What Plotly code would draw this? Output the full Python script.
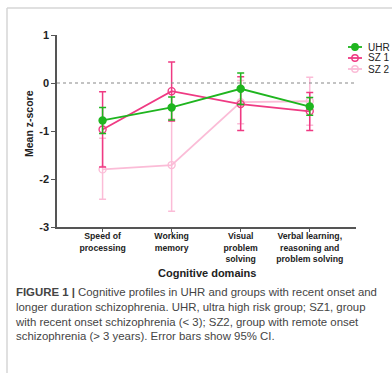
import numpy as np
import plotly.graph_objects as go

# Cognitive domains on the x axis
domains = ["Speed of<br>processing", "Working<br>memory", "Visual<br>problem<br>solving",
           "Verbal learning,<br>reasoning and<br>problem solving"]
groups = ["UHR", "SZ 1", "SZ 2"]

# Mean z-scores and 95% CI bounds per group
uhr_mean = [-0.78, -0.51, -0.12, -0.49]
uhr_lo = [-1.05, -0.77, -0.45, -0.67]
uhr_hi = [-0.51, -0.29, 0.21, -0.30]

sz1_mean = [-0.97, -0.17, -0.44, -0.59]
sz1_lo = [-1.75, -0.79, -0.99, -0.99]
sz1_hi = [-0.18, 0.44, 0.13, -0.20]

sz2_mean = [-1.80, -1.71, -0.40, -0.38]
sz2_lo = [-2.42, -2.67, -0.85, -0.88]
sz2_hi = [-1.15, -0.75, 0.05, 0.12]

y_ticks = [1, 0, -1, -2, -3]

GREEN = "#1fb51f"
PINK = "#ef3a83"
PALE = "#fbbcd7"
FONT = "Liberation Sans, Arial, sans-serif"

W, H = 392, 373
L, R, T, B = 57, 36, 35, 146
PW, PH = W - L - R, H - T - B


def px(x):
    return (x - L) / PW


def py(y):
    return 1 - (y - T) / PH


fig = go.Figure()

series = [
    ("SZ 2", sz2_mean, sz2_lo, sz2_hi, PALE, "circle-open"),
    ("SZ 1", sz1_mean, sz1_lo, sz1_hi, PINK, "circle-open"),
    ("UHR", uhr_mean, uhr_lo, uhr_hi, GREEN, "circle"),
]
xs = list(range(len(domains)))
for name, m, lo, hi, col, sym in series:
    m = np.array(m)
    fig.add_trace(go.Scatter(
        x=xs, y=m, name=name, mode="lines+markers",
        line=dict(color=col, width=1.8),
        marker=dict(symbol=sym, size=7, color=col, line=dict(color=col, width=1.4)),
        error_y=dict(type="data", symmetric=False,
                     array=np.array(hi) - m, arrayminus=m - np.array(lo),
                     color=col, thickness=1.5, width=3.5),
        showlegend=False,
    ))

# reference line at zero
fig.add_shape(type="line", xref="paper", yref="y", x0=0, x1=px(355), y0=0, y1=0,
              line=dict(color="#888888", width=1.2, dash="dot"))

# outer frame of the figure panel
fig.add_shape(type="line", xref="paper", yref="paper", x0=px(7), x1=px(400), y0=py(8), y1=py(8),
              line=dict(color="#d6d6d6", width=1.5))
fig.add_shape(type="line", xref="paper", yref="paper", x0=px(7), x1=px(7), y0=py(8), y1=py(380),
              line=dict(color="#d6d6d6", width=1.5))

# legend
leg_rows = [47, 58, 69]
leg_items = [("UHR", GREEN, "circle"), ("SZ 1", PINK, "open"), ("SZ 2", PALE, "open")]
for (name, col, kind), yy in zip(leg_items, leg_rows):
    fig.add_shape(type="line", xref="paper", yref="paper", x0=px(348), x1=px(362),
                  y0=py(yy), y1=py(yy), line=dict(color=col, width=1.8))
    fig.add_shape(type="circle", xref="paper", yref="paper", xsizemode="pixel", ysizemode="pixel",
                  xanchor=px(355), yanchor=py(yy), x0=-3.2, x1=3.2, y0=-3.2, y1=3.2,
                  line=dict(color=col, width=1.4),
                  fillcolor=col if kind == "circle" else "rgba(0,0,0,0)")
    fig.add_annotation(xref="paper", yref="paper", x=px(366), y=py(yy), text=name,
                       xanchor="left", yanchor="middle", showarrow=False,
                       font=dict(family=FONT, size=10, color="#222222"))

# axis titles
fig.add_annotation(xref="paper", yref="paper", x=px(29), y=py(124), text="<b>Mean z-score</b>",
                   textangle=-90, showarrow=False, xanchor="center", yanchor="middle",
                   font=dict(family=FONT, size=10.5, color="#222222"))
fig.add_annotation(xref="paper", yref="paper", x=px(207), y=py(273), text="<b>Cognitive domains</b>",
                   showarrow=False, xanchor="center", yanchor="middle",
                   font=dict(family=FONT, size=11, color="#222222"))

caption = ("<b>FIGURE 1 |</b> Cognitive profiles in UHR and groups with recent onset and<br>"
           "longer duration schizophrenia. UHR, ultra high risk group; SZ1, group<br>"
           "with recent onset schizophrenia (&lt; 3); SZ2, group with remote onset<br>"
           "schizophrenia (&gt; 3 years). Error bars show 95% CI.")
fig.add_annotation(xref="paper", yref="paper", x=px(13), y=py(284), text=caption,
                   showarrow=False, xanchor="left", yanchor="top", align="left",
                   font=dict(family=FONT, size=11.4, color="#444444"))

fig.update_layout(
    width=W, height=H, margin=dict(l=L, r=R, t=T, b=B),
    paper_bgcolor="white", plot_bgcolor="white",
    font=dict(family=FONT, color="#222222"),
    xaxis=dict(range=[-0.66, 3.67], tickmode="array", tickvals=xs,
               ticktext=["<b>%s</b>" % d for d in domains],
               showgrid=False, zeroline=False, showline=True, linecolor="#555555", linewidth=1.5,
               ticks="outside", ticklen=3, tickcolor="#555555", tickwidth=1.2,
               ticklabelstandoff=-3,
               tickfont=dict(family=FONT, size=8.7, color="#222222")),
    yaxis=dict(range=[-3, 1], tickmode="array", tickvals=y_ticks,
               ticktext=["<b>%d</b>" % v for v in y_ticks],
               showgrid=False, zeroline=False, showline=True, linecolor="#555555", linewidth=1.5,
               ticks="outside", ticklen=4, tickcolor="#555555", tickwidth=1.2,
               tickfont=dict(family=FONT, size=11, color="#222222")),
)

fig.write_html("out.html")
